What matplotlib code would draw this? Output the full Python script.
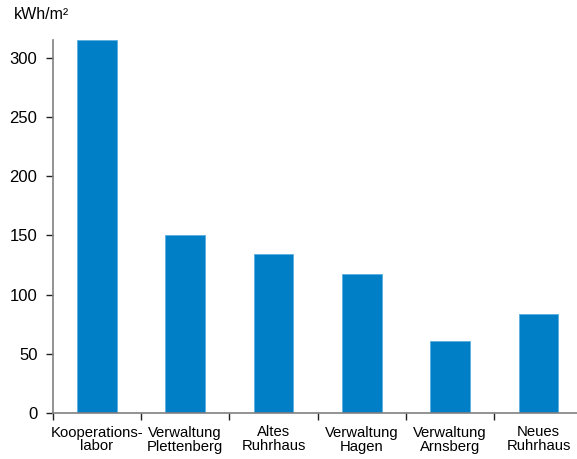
import matplotlib.pyplot as plt
import numpy as np

plt.rcParams['font.family'] = ['Liberation Sans', 'DejaVu Sans']

labels = ['Kooperations-\nlabor', 'Verwaltung\nPlettenberg', 'Altes\nRuhrhaus',
          'Verwaltung\nHagen', 'Verwaltung\nArnsberg', 'Neues\nRuhrhaus']
values = [315, 150, 134, 117, 61, 84]
yticks = [0, 50, 100, 150, 200, 250, 300]

fig = plt.figure(figsize=(5.77, 4.59), dpi=100)
ax = fig.add_axes([52.7 / 577, 46 / 459, 530 / 577, 373 / 459])

x = np.arange(len(values))
ax.bar(x, values, width=0.45, color='#007EC6', edgecolor='#5aaee0', linewidth=0.6)

ax.set_xlim(-0.5, len(values) - 0.5)
ax.set_ylim(0, 315)
ax.set_yticks(yticks)
ax.tick_params(axis='y', labelsize=12, direction='out', length=5, width=1, color='#222222', pad=6)

# category labels between tick marks at the boundaries
ax.set_xticks(np.arange(len(values) + 1) - 0.5)
ax.set_xticklabels([])
ax.set_xticks(x, minor=True)
ax.set_xticklabels(labels, minor=True, fontsize=10.7, linespacing=1.0)
ax.tick_params(axis='x', which='major', direction='out', length=5, width=1, color='#222222')
ax.tick_params(axis='x', which='minor', length=0, pad=9)

for s in ['top', 'right']:
    ax.spines[s].set_visible(False)
ax.spines['left'].set_color('#808080')
ax.spines['bottom'].set_color('#808080')
ax.spines['left'].set_linewidth(1.2)
ax.spines['bottom'].set_linewidth(1.2)

fig.text(14 / 577, 1 - 7 / 459, 'kWh/m²', fontsize=11.5, va='top', ha='left')

fig.savefig('out.png')
